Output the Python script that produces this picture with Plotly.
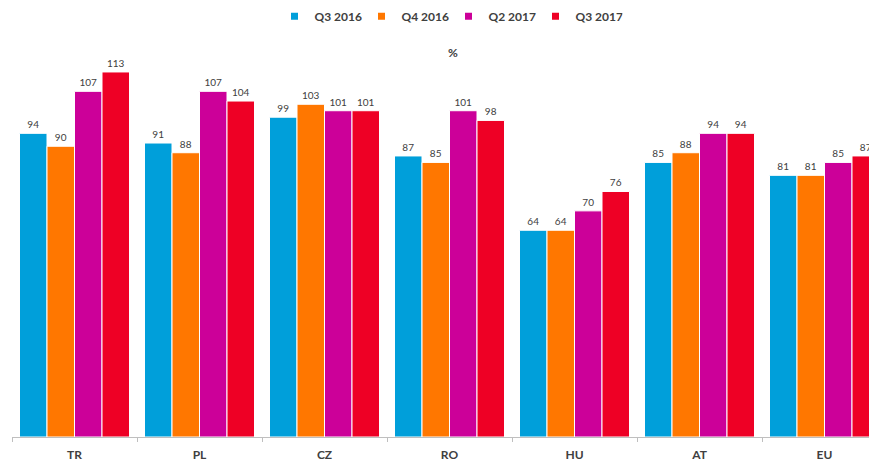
import plotly.graph_objects as go

categories = ["TR", "PL", "CZ", "RO", "HU", "AT", "EU"]
series_names = ["Q3 2016", "Q4 2016", "Q2 2017", "Q3 2017"]
q3_2016 = [94, 91, 99, 87, 64, 85, 81]
q4_2016 = [90, 88, 103, 85, 64, 88, 81]
q2_2017 = [107, 107, 101, 101, 70, 94, 85]
q3_2017 = [113, 104, 101, 98, 76, 94, 87]
colors = ["#009FDA", "#FF7700", "#CC0099", "#EE0025"]

fig = go.Figure()
for name, vals, col in zip(series_names, [q3_2016, q4_2016, q2_2017, q3_2017], colors):
    fig.add_trace(go.Bar(
        x=categories, y=vals, name=name,
        marker=dict(color=col, line=dict(color="white", width=1)),
        text=[str(v) for v in vals], textposition="outside",
        textfont=dict(size=10, color="#404040", family="Lato"),
        cliponaxis=False, showlegend=False,
    ))
    fig.add_trace(go.Scatter(
        x=[None], y=[None], mode="markers", name=name,
        marker=dict(symbol="square", size=7, color=col),
    ))

fig.update_layout(
    width=877, height=467,
    margin=dict(l=4, r=0, t=0, b=38, autoexpand=False),
    paper_bgcolor="white", plot_bgcolor="white",
    barmode="group", bargap=0.12, bargroupgap=0.0,
    font=dict(family="Lato", color="#404040"),
    legend=dict(orientation="h", x=0.5, xanchor="center", y=0.981, yanchor="middle",
                font=dict(size=12, family="Lato", color="#404040", weight="bold"),
                itemwidth=30, entrywidth=42, entrywidthmode="pixels", tracegroupgap=0),
    xaxis=dict(range=[-0.5, 6.484], showline=True, linecolor="#BFBFBF", linewidth=1,
               ticks="outside", tickson="boundaries", ticklen=4, tickcolor="#BFBFBF",
               ticklabelstandoff=7,
               tickfont=dict(size=12, family="Lato", color="#404040", weight="bold"),
               showgrid=False, zeroline=False),
    yaxis=dict(range=[0, 132.8], visible=False),
    annotations=[dict(text="%", x=0.505, y=0.897, xref="paper", yref="paper",
                      xanchor="center", yanchor="middle", showarrow=False,
                      font=dict(size=12, family="Lato", color="#404040", weight="bold"))],
)

fig.write_html("out.html")
